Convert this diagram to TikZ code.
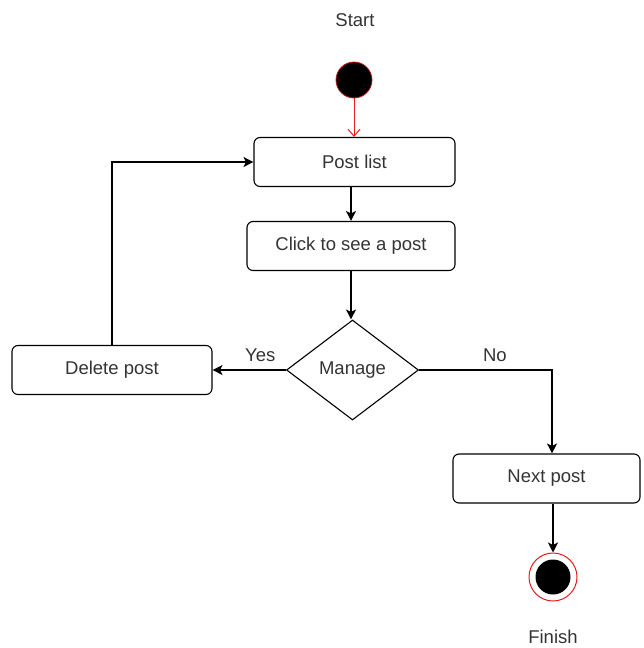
\documentclass[tikz,border=0pt]{standalone}
\usepackage{fontspec}
\setmainfont{Liberation Sans}
\usetikzlibrary{arrows.meta,shapes.geometric}
\definecolor{startred}{RGB}{230,30,30}
\begin{document}
\begin{tikzpicture}[x=1pt,y=-1pt,
  font=\fontsize{18.5}{22}\selectfont,
  every node/.style={text=black!80},
  action/.style={draw=black, line width=1.1pt, rounded corners=6pt, minimum height=49pt, inner sep=0pt, text=black!80},
  decision/.style={draw=black, line width=1.1pt, diamond, aspect=1.32, minimum width=132pt, minimum height=100pt, inner sep=0pt, text=black!80},
  flow/.style={draw=black, line width=1.1pt, -{Stealth[length=10pt,width=10pt,inset=2.5pt]}},
  initflow/.style={draw=startred, line width=1pt, -{Straight Barb[length=7pt,width=12pt]}},
  edgelabel/.style={yshift=15pt, inner sep=0pt, text=black!80}]
\useasboundingbox (0,0) rectangle (643,648);

% initial and final states
\node[circle, fill=black, draw=startred!80!black, line width=0.8pt, minimum size=36pt, inner sep=0pt] (start) at (354,80) {};
\node (startlbl) at (355,20) {Start};
\node[circle, draw=startred, line width=1pt, minimum size=48pt, inner sep=0pt] (finish) at (553,577) {};
\node[circle, fill=black, minimum size=35pt, inner sep=0pt] (finishdot) at (finish) {};
\node (finishlbl) at (553,637) {Finish};

% actions
\node[action, minimum width=201pt] (postlist) at (354.5,162) {Post list};
\node[action, minimum width=208pt] (click) at (351,246) {Click to see a post};
\node[decision] (manage) at (352.5,370) {Manage};
\node[action, minimum width=200pt] (delete) at (112,370) {Delete post};
\node[action, minimum width=187pt] (next) at (546.5,478.5) {Next post};

% connectors
\draw[initflow] (start.south) -- (postlist.north -| start.south);
\draw[flow] (postlist.south -| click.north) -- (click.north);
\draw[flow] (click.south) -- (click.south |- manage.north);
\draw[flow] (manage.west) -- (delete.east) node[edgelabel, pos=0.35] (yeslbl) {Yes};
\draw[flow] (delete.north) |- (postlist.west);
\coordinate (nobend) at (552,370);
\draw[flow] (manage.east) -- (nobend) node[edgelabel, pos=0.57] (nolbl) {No} -- (nobend |- next.north);
\draw[flow] (next.south -| finish.north) -- (finish.north);
\end{tikzpicture}
\end{document}
